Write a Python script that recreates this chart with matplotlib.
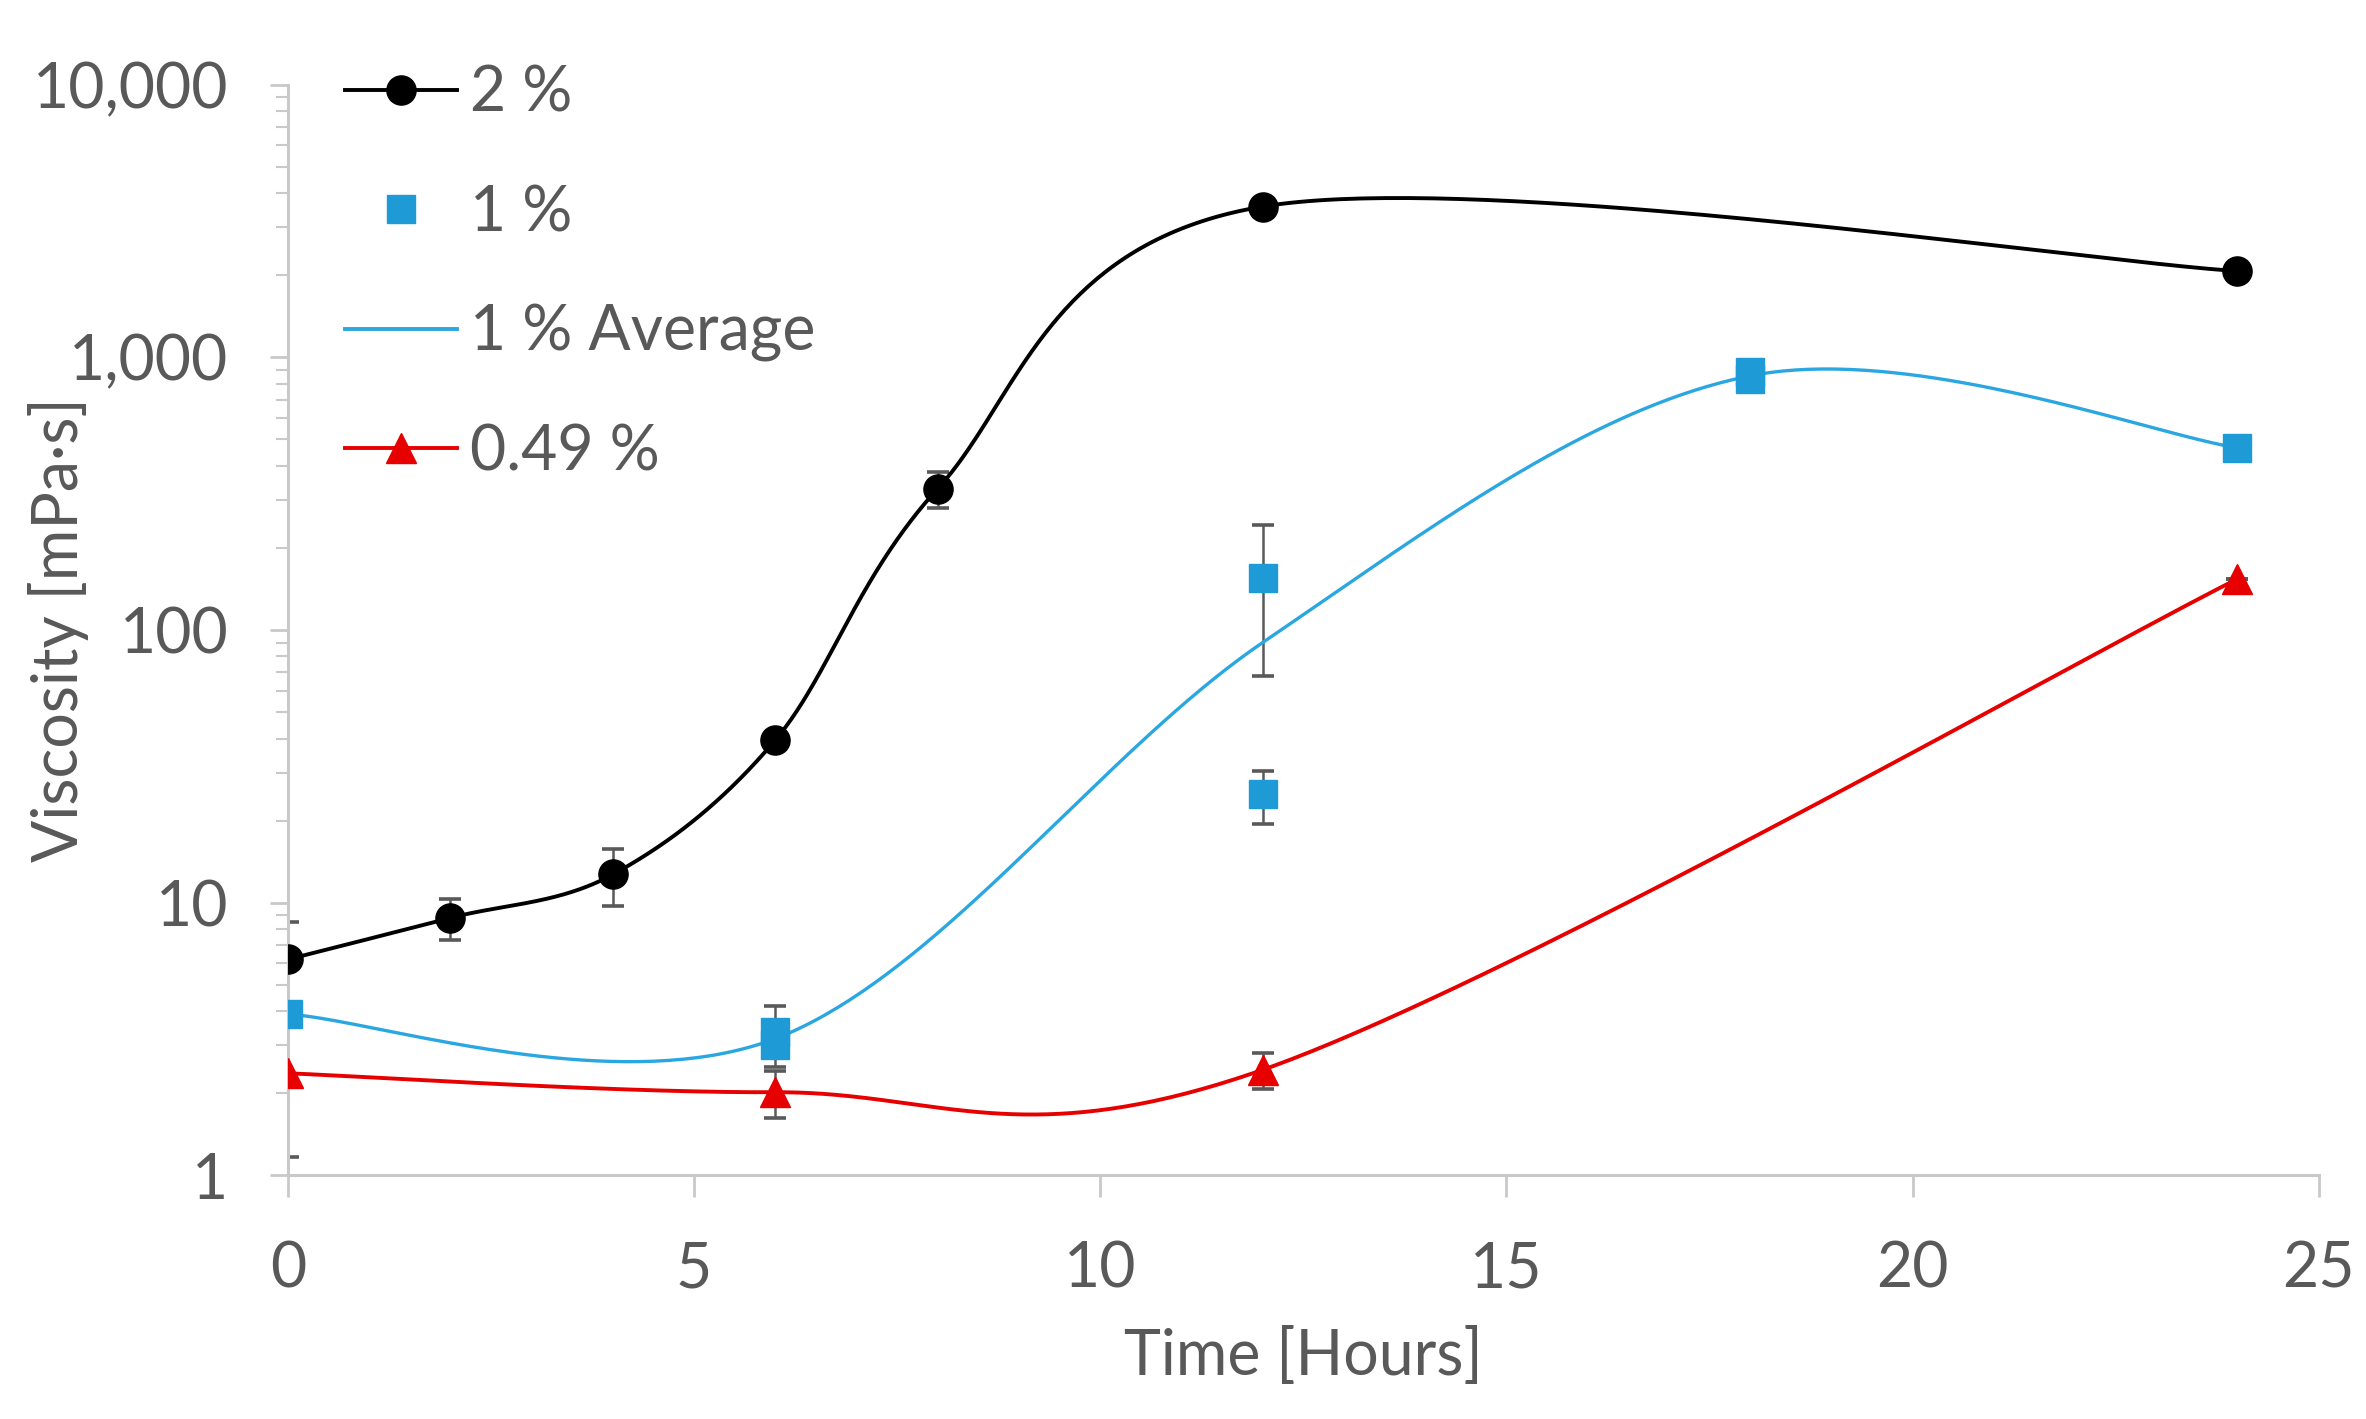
import matplotlib
matplotlib.use("Agg")
import matplotlib.pyplot as plt
import numpy as np
from matplotlib.ticker import LogLocator, NullFormatter

# 2 % series
Time2 = [0, 2, 4, 6, 8, 12, 24]
Visc2 = [6.2, 8.8, 12.7, 39.5, 330, 3570, 2070]
Err2 = [2.3, 1.5, 3.0, 0.0, 50, 0.0, 0.0]

# 1 % replicates (individual points)
Time1 = [0, 6, 6, 12, 12, 18, 18, 24]
Visc1 = [3.9, 3.0, 3.35, 155, 25, 830, 880, 466]
Err1 = [0.0, 0.3, 0.85, 87, 5.5, 0.0, 0.0, 0.0]

# 0.49 % series
Time049 = [0, 6, 12, 24]
Visc049 = [2.37, 2.02, 2.44, 154]
Err049 = [1.2, 0.4, 0.37, 0.0]

YTicks = [1, 10, 100, 1000, 10000]
YTickLabels = ["1", "10", "100", "1,000", "10,000"]
XTicks = [0, 5, 10, 15, 20, 25]

GRAY = "#595959"
AXIS = "#c9c9c9"
BLUE_MK = "#1E9BD7"
BLUE_LN = "#2AA7E0"
RED = "#E60000"


def excel_smooth(x, y, n=80):
    # Excel style smoothed line: bezier with control points at 1/6 of neighbour span
    pts = np.column_stack([np.asarray(x, float), np.log10(np.asarray(y, float))])
    segs = []
    t = np.linspace(0, 1, n)[:, None]
    for i in range(len(pts) - 1):
        p0 = pts[max(i - 1, 0)]
        p1 = pts[i]
        p2 = pts[i + 1]
        p3 = pts[min(i + 2, len(pts) - 1)]
        c1 = p1 + (p2 - p0) / 6
        c2 = p2 - (p3 - p1) / 6
        seg = (1 - t) ** 3 * p1 + 3 * (1 - t) ** 2 * t * c1 + 3 * (1 - t) * t ** 2 * c2 + t ** 3 * p2
        segs.append(seg)
    curve = np.vstack(segs)
    return curve[:, 0], 10 ** curve[:, 1]


def main():
    plt.rcParams["font.family"] = ["Lato", "DejaVu Sans"]
    fig = plt.figure(figsize=(23.66, 14.19), dpi=100)
    ax = fig.add_axes([0.1217, 0.1716, 0.8583, 0.7688])

    # averages of the 1 % replicates
    AvgTime = sorted(set(Time1))
    AvgVisc = [np.mean([v for t, v in zip(Time1, Visc1) if t == tt]) for tt in AvgTime]

    sx, sy = excel_smooth(Time2, Visc2)
    ax.plot(sx, sy, color="black", lw=2.8, zorder=3)
    sx, sy = excel_smooth(AvgTime, AvgVisc)
    ax.plot(sx, sy, color=BLUE_LN, lw=2.4, zorder=3)
    sx, sy = excel_smooth(Time049, Visc049)
    ax.plot(sx, sy, color=RED, lw=2.8, zorder=3)

    ebkw = dict(fmt="none", ecolor=GRAY, elinewidth=1.8, capsize=8, capthick=2.6, zorder=2)
    ax.errorbar(Time2, Visc2, yerr=Err2, **ebkw)
    ax.errorbar(Time1, Visc1, yerr=Err1, **ebkw)
    ax.errorbar(Time049, Visc049, yerr=Err049, **ebkw)

    ax.plot(Time2, Visc2, ls="none", marker="o", ms=21, color="black", zorder=4)
    ax.plot(Time1, Visc1, ls="none", marker="s", ms=20, color=BLUE_MK, zorder=4)
    ax.plot(Time049, Visc049, ls="none", marker="^", ms=22, color=RED, zorder=4)

    # legend proxies
    h1, = ax.plot([], [], color="black", lw=2.8, marker="o", ms=21)
    h2, = ax.plot([], [], ls="none", marker="s", ms=20, color=BLUE_MK)
    h3, = ax.plot([], [], color=BLUE_LN, lw=2.8)
    h4, = ax.plot([], [], color=RED, lw=2.8, marker="^", ms=22)
    leg = ax.legend([h1, h2, h3, h4], ["2 %", "1 %", "1 % Average", "0.49 %"],
                    loc="upper left", bbox_to_anchor=(0.028, 1.018), frameon=False,
                    fontsize=45, numpoints=1, handlelength=1.8, handletextpad=0.2,
                    labelspacing=0.98, borderpad=0, borderaxespad=0)
    for txt in leg.get_texts():
        txt.set_color(GRAY)

    ax.set_yscale("log")
    ax.set_ylim(1, 10000)
    ax.set_xlim(0, 25)
    ax.set_yticks(YTicks)
    ax.set_yticklabels(YTickLabels)
    ax.yaxis.set_minor_locator(LogLocator(base=10, subs=np.arange(2, 10)))
    ax.yaxis.set_minor_formatter(NullFormatter())
    ax.set_xticks(XTicks)

    for side in ["top", "right"]:
        ax.spines[side].set_visible(False)
    for side in ["left", "bottom"]:
        ax.spines[side].set_color(AXIS)
        ax.spines[side].set_linewidth(2.2)

    ax.tick_params(axis="x", which="major", direction="out", length=16, width=2,
                   color=AXIS, labelcolor=GRAY, labelsize=45, pad=31)
    ax.tick_params(axis="y", which="major", direction="out", length=13, width=2,
                   color=AXIS, labelcolor=GRAY, labelsize=45, pad=30)
    ax.tick_params(axis="y", which="minor", direction="out", length=9, width=1.5,
                   color=AXIS)

    ax.set_xlabel("Time [Hours]", fontsize=45, color=GRAY, labelpad=20)
    ax.set_ylabel("Viscosity [mPa·s]", fontsize=45, color=GRAY)
    ax.yaxis.set_label_coords(-0.098, 0.5)

    fig.savefig("out.png", dpi=100)


if __name__ == "__main__":
    main()
